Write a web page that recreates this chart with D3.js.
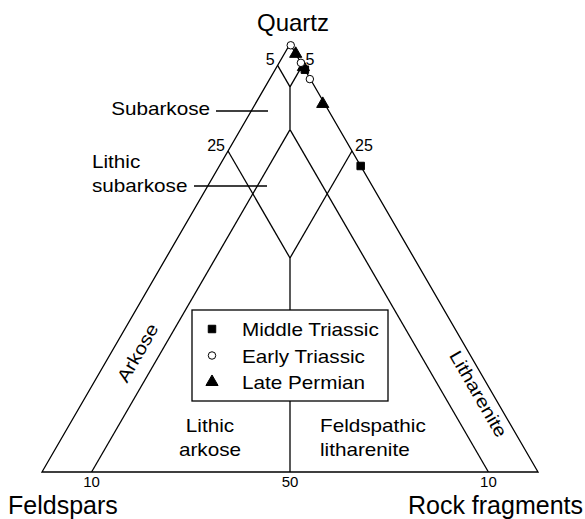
<!DOCTYPE html>
<html>
<head>
<meta charset="utf-8">
<script src="https://cdn.jsdelivr.net/npm/d3@7"></script>
<style>
  body { margin: 0; background: #fff; }
  svg { display: block; }
</style>
</head>
<body>
<svg id="chart"></svg>
<script>
let width = 585, height = 519;

// Data: compositions in % (Q = quartz, F = feldspars, R = rock fragments)
let middleTriassic = [
  { Q: 94.0, F: 0.0, R: 6.0 },
  { Q: 71.5, F: 0.0, R: 28.5 }
];
let earlyTriassic = [
  { Q: 99.7, F: 0.0, R: 0.3 },
  { Q: 95.6, F: 0.0, R: 4.4 },
  { Q: 91.8, F: 0.1, R: 8.1 }
];
let latePermian = [
  { Q: 97.7, F: 0.0, R: 2.3 },
  { Q: 94.6, F: 0.0, R: 5.4 },
  { Q: 86.0, F: 0.4, R: 13.6 }
];
let seriesNames = ["Middle Triassic", "Early Triassic", "Late Permian"];

// Class boundaries (Q, F, R end points)
let boundaries = [
  [[95, 5, 0], [90, 5, 5]],
  [[95, 0, 5], [90, 5, 5]],
  [[90, 5, 5], [80, 10, 10]],
  [[0, 90, 10], [80, 10, 10]],
  [[0, 10, 90], [80, 10, 10]],
  [[75, 25, 0], [50, 25, 25]],
  [[75, 0, 25], [50, 25, 25]],
  [[50, 25, 25], [0, 50, 50]]
];

// Tick labels on the edges
let edgeTicks = [
  { label: "5", c: [95, 5, 0], side: "left" },
  { label: "5", c: [95, 0, 5], side: "right" },
  { label: "25", c: [75, 25, 0], side: "left" },
  { label: "25", c: [75, 0, 25], side: "right" }
];
let baseTicks = [
  { label: "10", c: [0, 90, 10] },
  { label: "50", c: [0, 50, 50] },
  { label: "10", c: [0, 10, 90] }
];

let margin = { left: 42, right: 47, top: 44, bottom: 47 };

// Scales: horizontal position along the base, vertical by quartz %
let xScale = d3.scaleLinear()
  .domain([0, 100])
  .range([margin.left, width - margin.right]);

let yScale = d3.scaleLinear()
  .domain([0, 100])
  .range([height - margin.bottom, margin.top]);

function project(q, f, r) {
  let s = q + f + r;
  q = q / s * 100; r = r / s * 100;
  return [xScale(r + q / 2), yScale(q)];
}

let font = "'Liberation Sans', Arial, sans-serif";
let stretch = 1.15; // the small labels are set a bit wide

let svg = d3.select("#chart")
  .attr("width", width)
  .attr("height", height)
  .attr("viewBox", [0, 0, width, height])
  .style("background-color", "white");

let line = d3.line();

// Outer triangle
let corners = [[100, 0, 0], [0, 100, 0], [0, 0, 100], [100, 0, 0]];
svg.append("path")
  .attr("d", line(corners.map(c => project(...c))))
  .attr("fill", "none")
  .attr("stroke", "#000")
  .attr("stroke-width", 1.3);

// Field boundaries
svg.append("g")
  .selectAll("path")
  .data(boundaries)
  .join("path")
  .attr("d", d => line(d.map(c => project(...c))))
  .attr("fill", "none")
  .attr("stroke", "#000")
  .attr("stroke-width", 1.3);

// Edge tick labels
svg.append("g")
  .selectAll("text")
  .data(edgeTicks)
  .join("text")
  .attr("x", d => project(...d.c)[0] + (d.side === "left" ? -3 : 3))
  .attr("y", d => project(...d.c)[1])
  .attr("text-anchor", d => d.side === "left" ? "end" : "start")
  .style("font-family", font)
  .style("font-size", "16px")
  .text(d => d.label);

svg.append("g")
  .selectAll("text")
  .data(baseTicks)
  .join("text")
  .attr("x", d => project(...d.c)[0])
  .attr("y", height - margin.bottom + 15)
  .attr("text-anchor", "middle")
  .style("font-family", font)
  .style("font-size", "15px")
  .text(d => d.label);

// Pole labels
svg.append("text")
  .attr("x", 293)
  .attr("y", 31)
  .attr("text-anchor", "middle")
  .style("font-family", font)
  .style("font-size", "24px")
  .text("Quartz");

svg.append("text")
  .attr("x", 8)
  .attr("y", 513.5)
  .style("font-family", font)
  .style("font-size", "25px")
  .text("Feldspars");

svg.append("text")
  .attr("x", 583)
  .attr("y", 513.5)
  .attr("text-anchor", "end")
  .style("font-family", font)
  .style("font-size", "25px")
  .text("Rock fragments");

// Field labels
let labelSize = "18px";

function addLabel(lines, x, y, anchor, rotate) {
  let t = svg.append("text")
    .attr("text-anchor", anchor)
    .style("font-family", font)
    .style("font-size", labelSize)
    .attr("transform", `translate(${x},${y}) rotate(${rotate || 0}) scale(${stretch},1)`);
  lines.forEach((s, i) => {
    t.append("tspan").attr("x", 0).attr("dy", i === 0 ? 0 : 24.5).text(s);
  });
}

addLabel(["Subarkose"], 210, 115, "end");
addLabel(["Lithic", "subarkose"], 92, 168, "start");
addLabel(["Arkose"], 143, 356, "middle", -60);
addLabel(["Litharenite"], 473, 397, "middle", 60);
addLabel(["Lithic", "arkose"], 210, 432, "middle");
addLabel(["Feldspathic", "litharenite"], 320, 432, "start");

// Leader lines
svg.append("line")
  .attr("x1", 216).attr("x2", 268)
  .attr("y1", 111).attr("y2", 111)
  .attr("stroke", "#000").attr("stroke-width", 1.3);
svg.append("line")
  .attr("x1", 194).attr("x2", 267)
  .attr("y1", 186).attr("y2", 186)
  .attr("stroke", "#000").attr("stroke-width", 1.3);

// Legend
let legend = svg.append("g").attr("transform", "translate(192,310)");
legend.append("rect")
  .attr("width", 196)
  .attr("height", 91)
  .attr("fill", "white")
  .attr("stroke", "#000")
  .attr("stroke-width", 1.3);

let symbols = {
  "Middle Triassic": d3.symbol().type(d3.symbolSquare).size(56),
  "Early Triassic": d3.symbol().type(d3.symbolCircle).size(44),
  "Late Permian": d3.symbol().type(d3.symbolTriangle).size(64)
};
let fills = { "Middle Triassic": "#000", "Early Triassic": "white", "Late Permian": "#000" };

let rows = legend.selectAll("g.row")
  .data(seriesNames)
  .join("g")
  .attr("class", "row")
  .attr("transform", (d, i) => `translate(0,${19 + i * 26.5})`);

rows.append("path")
  .attr("transform", "translate(20,0)")
  .attr("d", d => symbols[d]())
  .attr("fill", d => fills[d])
  .attr("stroke", "#000")
  .attr("stroke-width", 1);

rows.append("text")
  .attr("transform", `translate(50,7) scale(${stretch},1)`)
  .style("font-family", font)
  .style("font-size", labelSize)
  .text(d => d);

// Data points
let series = [
  { name: "Late Permian", values: latePermian },
  { name: "Middle Triassic", values: middleTriassic },
  { name: "Early Triassic", values: earlyTriassic }
];

series.forEach(s => {
  svg.append("g")
    .selectAll("path")
    .data(s.values)
    .join("path")
    .attr("transform", d => `translate(${project(d.Q, d.F, d.R)})`)
    .attr("d", symbols[s.name]())
    .attr("fill", fills[s.name])
    .attr("stroke", "#000")
    .attr("stroke-width", 1);
});
</script>
</body>
</html>
